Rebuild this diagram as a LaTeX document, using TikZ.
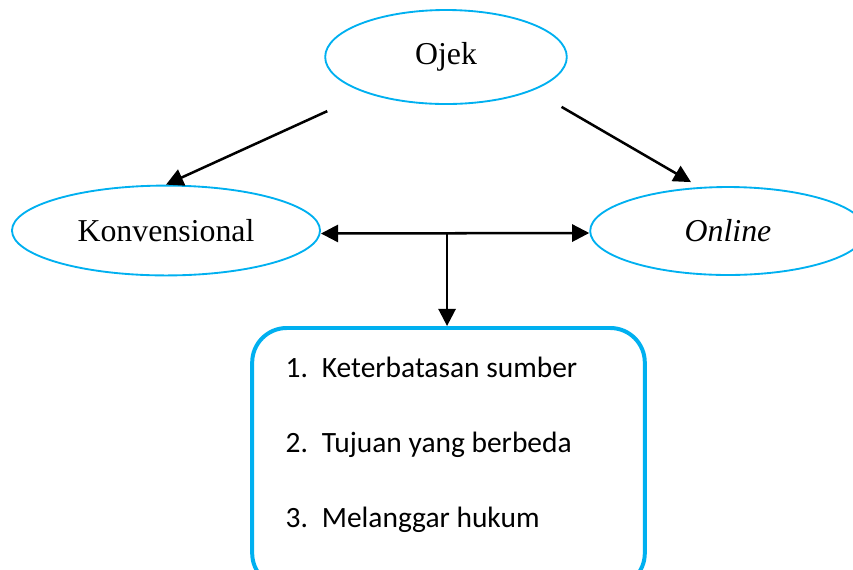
\documentclass[tikz,border=0pt]{standalone}
\usepackage{fontspec}
\setmainfont{Liberation Serif}
\newfontfamily\listfont{Carlito}
\usetikzlibrary{arrows.meta,positioning,shapes.geometric,calc}
\definecolor{skyline}{RGB}{0,176,240}
\tikzset{
  oval/.style={ellipse, draw=skyline, line width=0.7pt, inner sep=0pt,
               font=\fontsize{12}{14}\selectfont},
  ar/.style={-{Triangle[length=6.5pt,width=6.5pt]}, line width=0.95pt},
  dar/.style={{Triangle[length=6.5pt,width=6.5pt]}-{Triangle[length=6.5pt,width=6.5pt]}, line width=0.95pt},
  listbox/.style={rectangle, draw=skyline, line width=1.5pt, rounded corners=13pt,
                  minimum width=5.2cm, minimum height=3.44cm},
  listtxt/.style={inner sep=0pt, font=\listfont\fontsize{11.1}{13.5}\selectfont},
}

\begin{document}
\begin{tikzpicture}[x=0.01324cm,y=-0.01324cm]
\useasboundingbox (0,0) rectangle (853,569);

% ---- the three ellipses ----
\node[oval, minimum width=3.20cm, minimum height=1.245cm] (ojek) at (446,57) {Ojek};
\node[oval, minimum width=4.08cm, minimum height=1.19cm] (konv) at (166,230.5) {Konvensional};
\node[oval, minimum width=3.65cm, minimum height=1.165cm] (online) at (728,231) {\textit{Online}};

% ---- the list box ----
\node[listbox, anchor=north] (ket) at (448.5,326) {};
\node[listtxt, anchor=base west] (items) at ([shift={(35,51)}]ket.north west)
  {\begin{tabular}[t]{@{}l@{\hspace{5.2pt}}l@{}}
   1. & Keterbatasan sumber\\[14.8pt]
   2. & Tujuan yang berbeda\\[14.8pt]
   3. & Melanggar hukum
   \end{tabular}};

% ---- connectors ----
\draw[ar, shorten <=0.57cm] (ojek) -- (konv.north);
\draw[ar] ([shift={(29.5,16)}]ojek.south east) -- ([shift={(-37,-4)}]online.north);
\draw[dar] ([shift={(0,3)}]konv.east) -- ([shift={(0,2)}]online.west);
\coordinate (split) at ($([shift={(0,3)}]konv.east)!0.47!([shift={(0,2)}]online.west)$);
\draw[ar] (split) -- (split |- ket.north);

\end{tikzpicture}
\end{document}
